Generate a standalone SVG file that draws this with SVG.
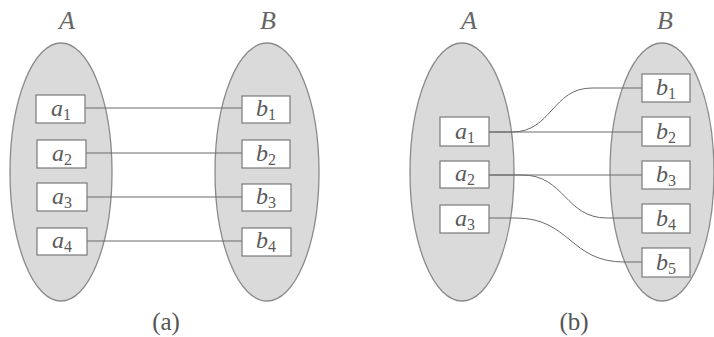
<svg xmlns="http://www.w3.org/2000/svg" width="714" height="337" viewBox="0 0 714 337">
<style>
.set{fill:#dadada;stroke:#8a8a8a;stroke-width:1.3}
.box{fill:#fff;stroke:#7a7a7a;stroke-width:1.2}
.lbl{font-family:"Liberation Serif",serif;font-style:italic;font-size:24px;fill:#5a5a5a;text-anchor:middle}
.sub{font-style:normal;font-size:16px}
.title{font-family:"Liberation Serif",serif;font-style:italic;font-size:26px;fill:#666;text-anchor:middle}
.cap{font-family:"Liberation Serif",serif;font-size:25px;fill:#555;text-anchor:middle}
.edge{fill:none;stroke:#6a6a6a;stroke-width:1}
</style>
<rect width="714" height="337" fill="#fff"/>
<!-- panel a -->
<g id="setA_a"><ellipse class="set" cx="61" cy="172" rx="51" ry="129"/><text class="title" x="67" y="29">A</text></g>
<g id="setB_a"><ellipse class="set" cx="267" cy="172" rx="52" ry="129"/><text class="title" x="268" y="29">B</text></g>
<g id="edges_a">
<line class="edge" x1="85" y1="108" x2="242" y2="108"/>
<line class="edge" x1="86" y1="153" x2="242" y2="153"/>
<line class="edge" x1="87" y1="197" x2="242" y2="197"/>
<line class="edge" x1="87" y1="241" x2="242" y2="241"/>
</g>
<g id="a_a1"><rect class="box" x="36" y="95" width="49" height="28"/><text class="lbl" x="61" y="116">a<tspan class="sub" dy="4">1</tspan></text></g>
<g id="a_a2"><rect class="box" x="37" y="140" width="49" height="28"/><text class="lbl" x="62" y="161">a<tspan class="sub" dy="4">2</tspan></text></g>
<g id="a_a3"><rect class="box" x="37" y="183" width="50" height="28"/><text class="lbl" x="62" y="204">a<tspan class="sub" dy="4">3</tspan></text></g>
<g id="a_a4"><rect class="box" x="37" y="228" width="50" height="27"/><text class="lbl" x="62" y="248">a<tspan class="sub" dy="4">4</tspan></text></g>
<g id="a_b1"><rect class="box" x="242" y="96" width="48" height="27"/><text class="lbl" x="266" y="116">b<tspan class="sub" dy="4">1</tspan></text></g>
<g id="a_b2"><rect class="box" x="242" y="140" width="48" height="28"/><text class="lbl" x="266" y="161">b<tspan class="sub" dy="4">2</tspan></text></g>
<g id="a_b3"><rect class="box" x="242" y="184" width="49" height="27"/><text class="lbl" x="266" y="204">b<tspan class="sub" dy="4">3</tspan></text></g>
<g id="a_b4"><rect class="box" x="242" y="228" width="49" height="28"/><text class="lbl" x="266" y="248">b<tspan class="sub" dy="4">4</tspan></text></g>
<text class="cap" x="166" y="330">(a)</text>
<!-- panel b -->
<g id="setA_b"><ellipse class="set" cx="462" cy="172" rx="52" ry="129"/><text class="title" x="469" y="29">A</text></g>
<g id="setB_b"><ellipse class="set" cx="662" cy="172" rx="52" ry="129"/><text class="title" x="665" y="29">B</text></g>
<g id="edges_b">
<path class="edge" d="M489 132 H512 C552 132 552 88 592 88 H642"/>
<line class="edge" x1="489" y1="132" x2="642" y2="132"/>
<line class="edge" x1="489" y1="175" x2="642" y2="175"/>
<path class="edge" d="M489 175 H522 C565 175 565 218 607 218 H642"/>
<path class="edge" d="M489 218 H516 C570 218 570 262 624 262 H642"/>
</g>
<g id="b_a1"><rect class="box" x="440" y="117" width="49" height="29"/><text class="lbl" x="465" y="139">a<tspan class="sub" dy="4">1</tspan></text></g>
<g id="b_a2"><rect class="box" x="440" y="161" width="49" height="27"/><text class="lbl" x="465" y="181">a<tspan class="sub" dy="4">2</tspan></text></g>
<g id="b_a3"><rect class="box" x="440" y="205" width="49" height="28"/><text class="lbl" x="465" y="226">a<tspan class="sub" dy="4">3</tspan></text></g>
<g id="b_b1"><rect class="box" x="642" y="74" width="48" height="28"/><text class="lbl" x="666" y="95">b<tspan class="sub" dy="4">1</tspan></text></g>
<g id="b_b2"><rect class="box" x="642" y="117" width="48" height="29"/><text class="lbl" x="666" y="139">b<tspan class="sub" dy="4">2</tspan></text></g>
<g id="b_b3"><rect class="box" x="642" y="161" width="48" height="28"/><text class="lbl" x="666" y="182">b<tspan class="sub" dy="4">3</tspan></text></g>
<g id="b_b4"><rect class="box" x="642" y="204" width="48" height="29"/><text class="lbl" x="666" y="226">b<tspan class="sub" dy="4">4</tspan></text></g>
<g id="b_b5"><rect class="box" x="642" y="248" width="48" height="29"/><text class="lbl" x="666" y="270">b<tspan class="sub" dy="4">5</tspan></text></g>
<text class="cap" x="574" y="330">(b)</text>
</svg>
